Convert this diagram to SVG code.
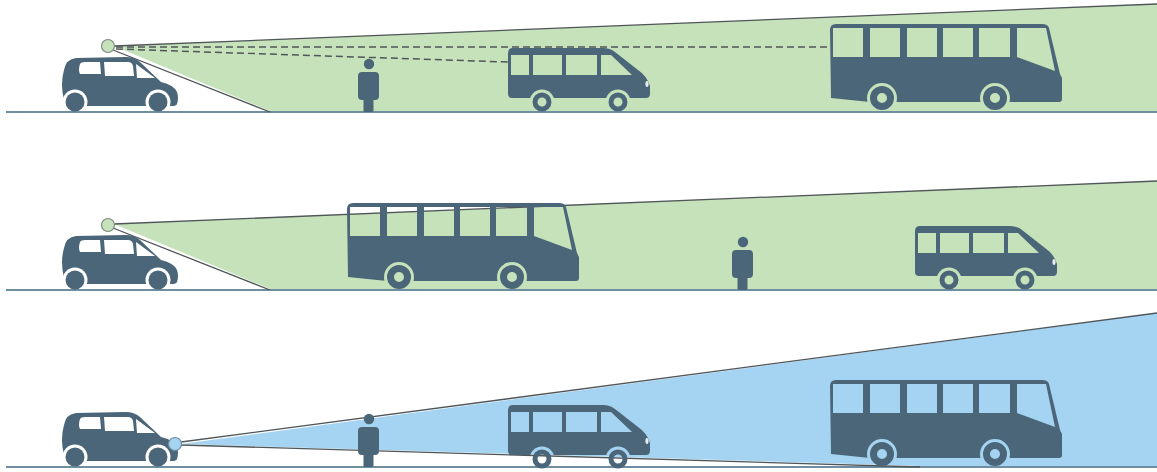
<svg xmlns="http://www.w3.org/2000/svg" xmlns:xlink="http://www.w3.org/1999/xlink" width="1157" height="472" viewBox="0 0 1157 472">
  <style>
    .body { fill: #4b6679; fill-rule: evenodd; }
    .tire { fill: #4b6679; fill-rule: evenodd; }
    .ground { stroke: #6f8e9f; stroke-width: 2; fill: none; }
    .edge { stroke: #4f5558; stroke-width: 1.3; fill: none; }
    .dash { stroke: #4f5558; stroke-width: 1.5; fill: none; stroke-dasharray: 7 4; }
    .beam-green { fill: #c6e2bb; }
    .beam-blue { fill: #a4d4f1; }
    .sensor-green { fill: #c6e2bb; stroke: #7e8a80; stroke-width: 1.2; }
    .sensor-blue { fill: #a4d4f1; stroke: #6f8e9f; stroke-width: 1.2; }
    .lamp { fill: #e4eef1; }
  </style>
  <defs>
    <!-- wheel arch cut-outs, so the backdrop shows around each wheel -->
    <mask id="carArches" maskUnits="userSpaceOnUse" x="50" y="50" width="140" height="70">
      <rect x="50" y="50" width="140" height="70" fill="#fff"/>
      <circle cx="75" cy="102" r="12.5" fill="#000"/>
      <circle cx="158" cy="102" r="12.5" fill="#000"/>
    </mask>
    <mask id="vanArches" maskUnits="userSpaceOnUse" x="500" y="40" width="160" height="75">
      <rect x="500" y="40" width="160" height="75" fill="#fff"/>
      <circle cx="542" cy="102" r="12.5" fill="#000"/>
      <circle cx="618" cy="102" r="12.5" fill="#000"/>
    </mask>
    <mask id="busArches" maskUnits="userSpaceOnUse" x="820" y="15" width="250" height="100">
      <rect x="820" y="15" width="250" height="100" fill="#fff"/>
      <circle cx="882" cy="98" r="15" fill="#000"/>
      <circle cx="995" cy="98" r="15" fill="#000"/>
    </mask>

    <!-- hatchback -->
    <g id="car">
      <path class="body" mask="url(#carArches)" d="M64,100 Q60,84 64,70 Q66,59 76,58 L126,57 Q134,57 140,62 L161,82 Q174,85 177,92 Q179,98 177,104 Q176,106 172,106 L68,106 Q64,106 64,100 Z
        M80,64 Q81,62 85,62 L100,62 L101,74 L80,74 Q78,70 80,64 Z
        M104,62 L128,62 Q132,62 133,66 L134,76 L105,76 Z
        M136,64 L155,78 L137,78 Z"/>
      <circle class="tire" cx="75" cy="102" r="9.5"/>
      <circle class="tire" cx="158" cy="102" r="9.5"/>
    </g>

    <!-- minivan -->
    <g id="van">
      <path class="body" mask="url(#vanArches)" d="M512,98 Q508,98 508,94 L508,53 Q508,48 513,48 L603,48 Q610,48 615,52 L638,70 Q647,76 650,86 L650,94 Q650,98 646,98 Z
        M511,55 H529 V75 H511 Z
        M533,55 H562 V75 H533 Z
        M566,55 H597 V75 H566 Z
        M601,55 H611 L632,75 H601 Z"/>
      <ellipse class="lamp" cx="647" cy="84" rx="1.6" ry="3"/>
      <path class="tire" d="M532.5,102 a9.5,9.5 0 1,0 19,0 a9.5,9.5 0 1,0 -19,0 Z M537.5,102 a4.5,4.5 0 1,0 9,0 a4.5,4.5 0 1,0 -9,0 Z"/>
      <path class="tire" d="M608.5,102 a9.5,9.5 0 1,0 19,0 a9.5,9.5 0 1,0 -19,0 Z M613.5,102 a4.5,4.5 0 1,0 9,0 a4.5,4.5 0 1,0 -9,0 Z"/>
    </g>

    <!-- coach -->
    <g id="bus">
      <path class="body" mask="url(#busArches)" d="M830,30 Q830,24 836,24 L1042,24 Q1048,24 1049,28 L1060,74 L1062,78 L1062,99 Q1062,102 1059,102 L870,102 L831,98 Z
        M833,28 H863 V57 H833 Z
        M870,28 H900 V57 H870 Z
        M907,28 H937 V57 H907 Z
        M943,28 H973 V57 H943 Z
        M979,28 H1010 V57 H979 Z
        M1017,28 H1046 L1055,71 L1017,57 Z"/>
      <path class="tire" d="M870,98 a12,12 0 1,0 24,0 a12,12 0 1,0 -24,0 Z M877,98 a5,5 0 1,0 10,0 a5,5 0 1,0 -10,0 Z"/>
      <path class="tire" d="M983,98 a12,12 0 1,0 24,0 a12,12 0 1,0 -24,0 Z M990,98 a5,5 0 1,0 10,0 a5,5 0 1,0 -10,0 Z"/>
    </g>

    <!-- pedestrian -->
    <g id="person">
      <circle class="body" cx="369" cy="64" r="5.2"/>
      <rect class="body" x="358" y="72" width="21" height="28" rx="4"/>
      <rect class="body" x="363.5" y="95" width="10" height="17" rx="1.5"/>
    </g>
  </defs>

  <rect width="1157" height="472" fill="#fff"/>

  <!-- sensing areas -->
  <g id="beams">
    <polygon class="beam-green" points="114,46 1157,4 1157,111 270,111"/>
    <polygon class="beam-green" points="114,224 1157,181 1157,289 270,289"/>
    <polygon class="beam-blue" points="181,444 1157,313 1157,466 920,466"/>
  </g>

  <!-- road surfaces -->
  <g id="ground">
    <line class="ground" x1="6" y1="112" x2="1157" y2="112"/>
    <line class="ground" x1="6" y1="290" x2="1157" y2="290"/>
    <line class="ground" x1="6" y1="467" x2="1157" y2="467"/>
  </g>

  <!-- beam edges and lines of sight -->
  <g id="connectors">
    <line class="edge" x1="114" y1="46" x2="1157" y2="4"/>
    <line class="edge" x1="113" y1="50" x2="270" y2="112"/>
    <line class="dash" x1="116" y1="47" x2="830" y2="47"/>
    <line class="dash" x1="116" y1="49" x2="508" y2="62"/>

    <line class="edge" x1="114" y1="224" x2="1157" y2="181"/>
    <line class="edge" x1="113" y1="228" x2="270" y2="290"/>

    <line class="edge" x1="181" y1="442" x2="1157" y2="313"/>
    <line class="edge" x1="181" y1="445" x2="920" y2="467"/>
  </g>

  <!-- scene 1 -->
  <g id="car-1"><use xlink:href="#car"/></g>
  <g id="person-1"><use xlink:href="#person"/></g>
  <g id="van-1"><use xlink:href="#van"/></g>
  <g id="bus-1"><use xlink:href="#bus"/></g>
  <g id="sensor-1"><circle class="sensor-green" cx="108" cy="46" r="6.5"/></g>

  <!-- scene 2 -->
  <g id="car-2"><use xlink:href="#car" transform="translate(0,178)"/></g>
  <g id="bus-2"><use xlink:href="#bus" transform="translate(-483,179)"/></g>
  <g id="person-2"><use xlink:href="#person" transform="translate(374,178)"/></g>
  <g id="van-2"><use xlink:href="#van" transform="translate(407,178)"/></g>
  <g id="sensor-2"><circle class="sensor-green" cx="108" cy="225" r="6.5"/></g>

  <!-- scene 3 -->
  <g id="car-3"><use xlink:href="#car" transform="translate(0,355)"/></g>
  <g id="person-3"><use xlink:href="#person" transform="translate(0,355)"/></g>
  <g id="van-3"><use xlink:href="#van" transform="translate(0,357)"/></g>
  <g id="bus-3"><use xlink:href="#bus" transform="translate(0,356)"/></g>
  <g id="sensor-3"><circle class="sensor-blue" cx="175" cy="444" r="6.5"/></g>
</svg>
